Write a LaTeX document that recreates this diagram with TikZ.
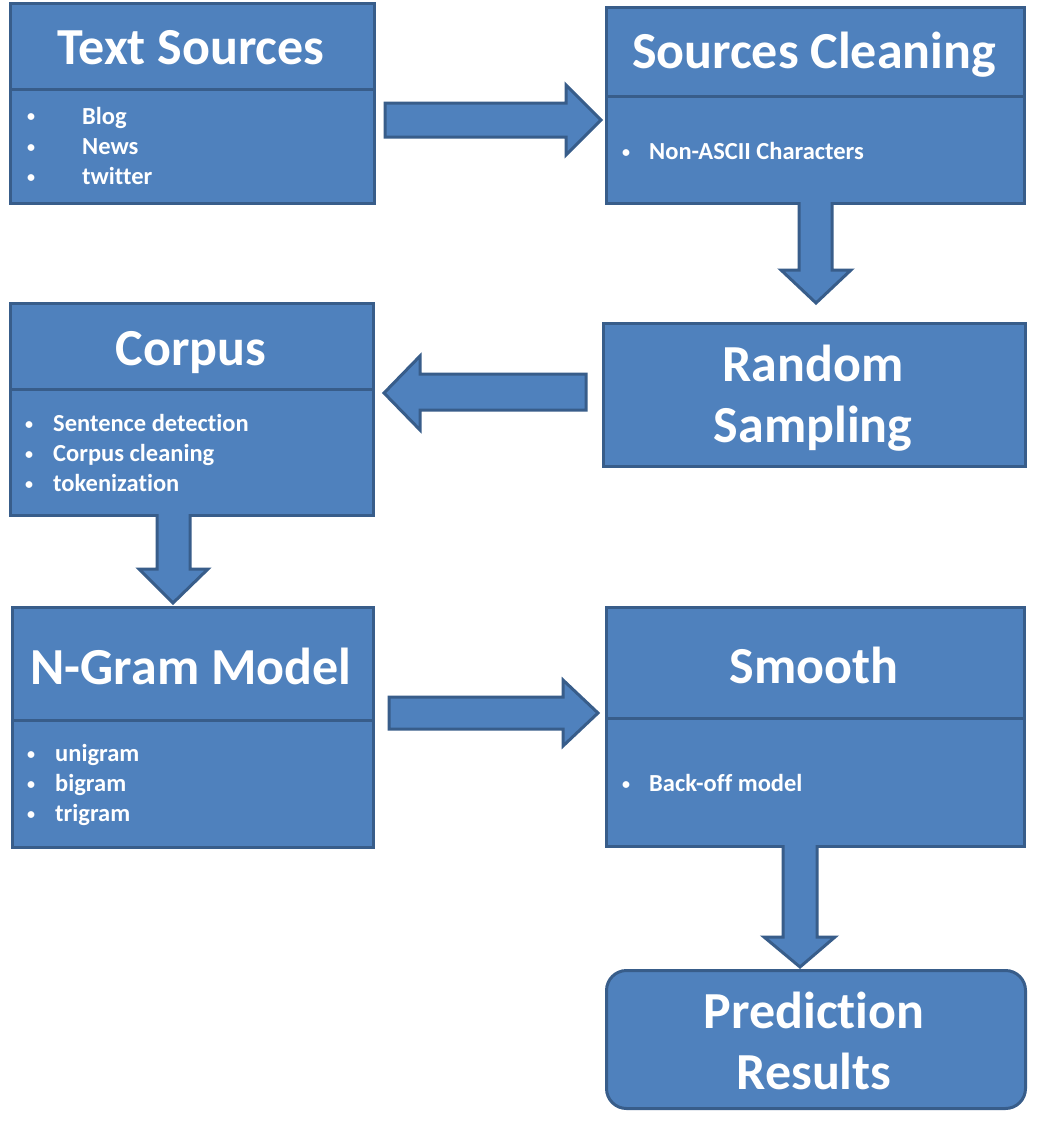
\documentclass[tikz,border=0pt]{standalone}
\usepackage{fontspec}
\setmainfont[Ligatures=NoCommon]{Carlito}
\definecolor{boxfill}{HTML}{4F81BD}
\definecolor{boxline}{HTML}{385D8A}
\newcommand{\bul}{\raisebox{2pt}{\fontsize{16}{16}\selectfont •}}
\begin{document}
\begin{tikzpicture}[x=1pt,y=-1pt,
  box/.style={draw=boxline, fill=boxfill, line width=3pt, inner sep=0pt, anchor=north west},
  divider/.style={draw=boxline, line width=3pt},
  blockarrow/.style={draw=boxline, fill=boxfill, line width=3pt, line join=miter},
  title/.style={text=white, inner sep=0pt, anchor=base, align=center,
    font=\fontsize{52}{61}\selectfont\bfseries},
  item/.style={text=white, inner sep=0pt, anchor=base west,
    font=\fontsize{24.5}{30}\selectfont\bfseries}]
\useasboundingbox[fill=white] (0,0) rectangle (1040,1132);

% boxes
\node[box, minimum width=364pt, minimum height=200pt] (ts) at (9,2) {};
\node[box, minimum width=418pt, minimum height=196pt] (sc) at (605,6) {};
\node[box, minimum width=422pt, minimum height=143pt] (rs) at (602,322) {};
\node[box, minimum width=363pt, minimum height=212pt] (co) at (9,302) {};
\node[box, minimum width=361pt, minimum height=240pt] (ng) at (11,606) {};
\node[box, minimum width=418pt, minimum height=239pt] (sm) at (605,606) {};
\node[box, rounded corners=20pt, minimum width=419pt, minimum height=138pt] (pr) at (605,969) {};

% dividers
\draw[divider] (ts.west |- 0,89) -- (ts.east |- 0,89);
\draw[divider] (sc.west |- 0,96) -- (sc.east |- 0,96);
\draw[divider] (co.west |- 0,389) -- (co.east |- 0,389);
\draw[divider] (ng.west |- 0,720) -- (ng.east |- 0,720);
\draw[divider] (sm.west |- 0,718) -- (sm.east |- 0,718);

% block arrows
\draw[blockarrow] (385,103) -- (566,103) -- (566,85) -- (601,120) -- (566,155) -- (566,137) -- (385,137) -- cycle;
\draw[blockarrow] (799,202) -- (799,270) -- (781,270) -- (816,303) -- (851,270) -- (832,270) -- (832,202);
\draw[blockarrow] (586,374) -- (420,374) -- (420,356) -- (384,393) -- (420,430) -- (420,410) -- (586,410) -- cycle;
\draw[blockarrow] (157,514) -- (157,569) -- (139,569) -- (173,603) -- (208,569) -- (190,569) -- (190,514);
\draw[blockarrow] (389,697) -- (563,697) -- (563,680) -- (598,713) -- (563,746) -- (563,729) -- (389,729) -- cycle;
\draw[blockarrow] (783,845) -- (783,937) -- (764,937) -- (800,967) -- (835,937) -- (817,937) -- (817,845);

% titles
\node[title] (tst) at (191,65) {Text Sources};
\node[title] (sct) at (814,69) {Sources Cleaning};
\node[title] (rst) at (813,442) {Random\\Sampling};
\node[title] (cot) at (191,365) {Corpus};
\node[title] (ngt) at (191,684) {N-Gram Model};
\node[title] (smt) at (814,683) {Smooth};
\node[title] (prt) at (814,1089) {Prediction\\Results};

% items
\node[item] (ts1) at (27,124) {\makebox[55pt][l]{\bul}Blog};
\node[item] (ts2) at (27,154) {\makebox[55pt][l]{\bul}News};
\node[item] (ts3) at (27,184) {\makebox[55pt][l]{\bul}twitter};
\node[item] (sc1) at (622,159) {\makebox[27pt][l]{\bul}Non-ASCII Characters};
\node[item] (co1) at (25,431) {\makebox[28pt][l]{\bul}Sentence detection};
\node[item] (co2) at (25,461) {\makebox[28pt][l]{\bul}Corpus cleaning};
\node[item] (co3) at (25,491) {\makebox[28pt][l]{\bul}tokenization};
\node[item] (ng1) at (27,761) {\makebox[28pt][l]{\bul}unigram};
\node[item] (ng2) at (27,791) {\makebox[28pt][l]{\bul}bigram};
\node[item] (ng3) at (27,821) {\makebox[28pt][l]{\bul}trigram};
\node[item] (sm1) at (622,791) {\makebox[27pt][l]{\bul}Back-off model};
\end{tikzpicture}
\end{document}
